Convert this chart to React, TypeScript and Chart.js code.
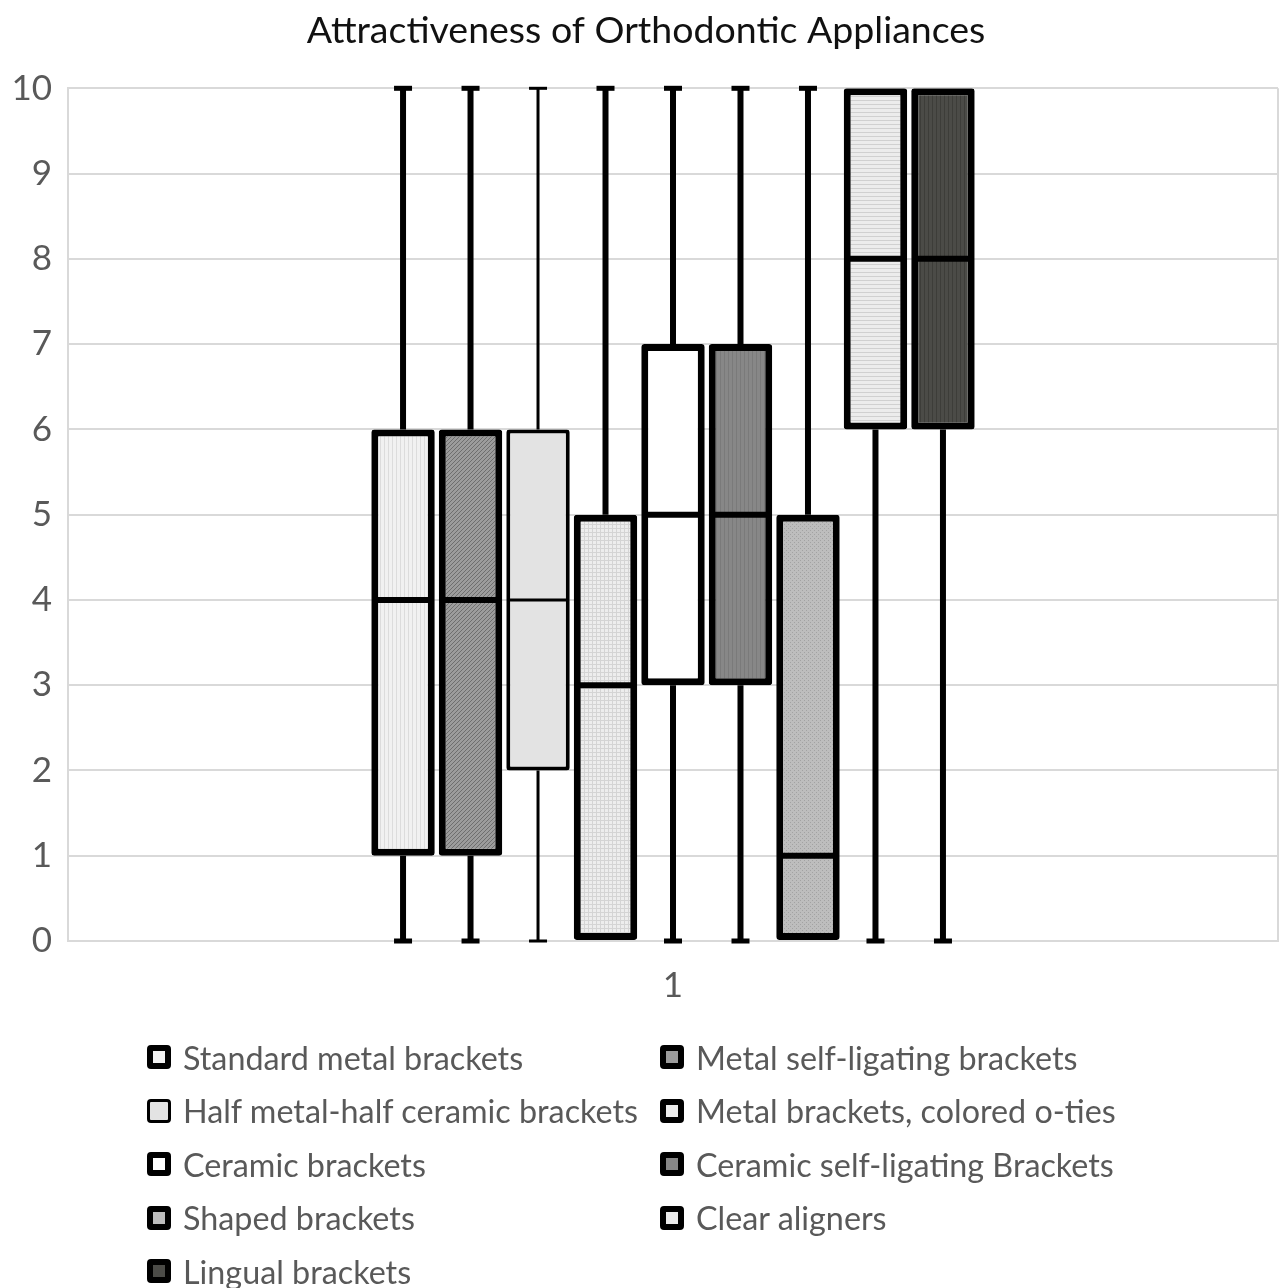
import React, { useEffect, useRef } from 'react';
import { Chart, registerables } from 'chart.js';

Chart.register(...registerables);

const categories = ['1'];
const seriesNames = [
  'Standard metal brackets',
  'Metal self-ligating brackets',
  'Half metal-half ceramic brackets',
  'Metal brackets, colored o-ties',
  'Ceramic brackets',
  'Ceramic self-ligating Brackets',
  'Shaped brackets',
  'Clear aligners',
  'Lingual brackets',
];
const minValues = [0, 0, 0, 0, 0, 0, 0, 0, 0];
const q1Values = [1, 1, 2, 0, 3, 3, 0, 6, 6];
const medianValues = [4, 4, 4, 3, 5, 5, 1, 8, 8];
const q3Values = [6, 6, 6, 5, 7, 7, 5, 10, 10];
const maxValues = [10, 10, 10, 10, 10, 10, 10, 10, 10];
const yTicks = [0, 1, 2, 3, 4, 5, 6, 7, 8, 9, 10];

const fillBase = ['#f1f1f1', '#9c9c9c', '#e3e3e3', '#ededed', '#ffffff', '#878787', '#bdbdbd', '#ececec', '#4b4b47'];
const fillKind = ['vstripe', 'diag', 'none', 'grid', 'none', 'vstripe', 'dots', 'hstripe', 'vstripe'];
const fillStroke = ['#dcdcdc', '#6e6e6e', '#e3e3e3', '#d4d4d4', '#ffffff', '#7a7a7a', '#a2a2a2', '#d0d0d0', '#3d3d39'];
const lineWidths = [7, 7, 4, 7, 7, 7, 7, 7, 7];

function makePattern(base: string, stroke: string, kind: string): CanvasPattern | string {
  if (kind === 'none') return base;
  const c = document.createElement('canvas');
  const s = 4;
  c.width = s;
  c.height = s;
  const g = c.getContext('2d')!;
  g.fillStyle = base;
  g.fillRect(0, 0, s, s);
  g.fillStyle = stroke;
  if (kind === 'vstripe') {
    g.fillRect(0, 0, 1, s);
  } else if (kind === 'hstripe') {
    g.fillRect(0, 0, s, 1);
  } else if (kind === 'grid') {
    g.fillRect(0, 0, 1, s);
    g.fillRect(0, 0, s, 1);
  } else if (kind === 'dots') {
    g.fillRect(0, 0, 1, 1);
    g.fillRect(2, 2, 1, 1);
  } else if (kind === 'diag') {
    for (let i = 0; i < s; i++) g.fillRect(i, s - 1 - i, 1, 1);
  }
  const p = g.createPattern(c, 'repeat');
  return p || base;
}

const boxPlugin = {
  id: 'boxWhiskers',
  beforeDatasetsDraw(chart: any) {
    const ctx = chart.ctx;
    const y = chart.scales.y;
    chart.data.datasets.forEach((ds: any, i: number) => {
      const meta = chart.getDatasetMeta(i);
      const bar = meta.data[0];
      if (!bar) return;
      const { x } = bar.getProps(['x'], true);
      const lw = ds.stats.lw;
      ctx.save();
      ctx.strokeStyle = '#000';
      ctx.fillStyle = '#000';
      ctx.lineWidth = lw - 1;
      const pMin = y.getPixelForValue(ds.stats.min);
      const pMax = y.getPixelForValue(ds.stats.max);
      const pQ1 = y.getPixelForValue(ds.stats.q1);
      const pQ3 = y.getPixelForValue(ds.stats.q3);
      const capW = 18;
      const capH = Math.max(3, lw - 2);
      if (ds.stats.q1 > ds.stats.min) {
        ctx.beginPath();
        ctx.moveTo(x, pQ1);
        ctx.lineTo(x, pMin);
        ctx.stroke();
        ctx.fillRect(x - capW / 2, pMin - capH / 2, capW, capH);
      }
      if (ds.stats.max > ds.stats.q3) {
        ctx.beginPath();
        ctx.moveTo(x, pQ3);
        ctx.lineTo(x, pMax);
        ctx.stroke();
        ctx.fillRect(x - capW / 2, pMax - capH / 2, capW, capH);
      }
      ctx.restore();
    });
  },
  afterDatasetsDraw(chart: any) {
    const ctx = chart.ctx;
    const y = chart.scales.y;
    chart.data.datasets.forEach((ds: any, i: number) => {
      const meta = chart.getDatasetMeta(i);
      const bar = meta.data[0];
      if (!bar) return;
      const { x, width } = bar.getProps(['x', 'width'], true);
      const lw = ds.stats.lw;
      const pMed = y.getPixelForValue(ds.stats.median);
      ctx.save();
      ctx.strokeStyle = '#000';
      ctx.lineWidth = Math.max(3, lw - 1);
      ctx.beginPath();
      ctx.moveTo(x - width / 2 + 1, pMed);
      ctx.lineTo(x + width / 2 - 1, pMed);
      ctx.stroke();
      ctx.restore();
    });
  },
};

const FONT = 'Lato, "Open Sans", sans-serif';

export default function App() {
  const ref = useRef<HTMLCanvasElement>(null);

  useEffect(() => {
    if (!ref.current) return;
    const datasets = seriesNames.map((name, i) => ({
      label: name,
      data: [[q1Values[i], q3Values[i]]],
      backgroundColor: makePattern(fillBase[i], fillStroke[i], fillKind[i]),
      borderColor: '#000000',
      borderWidth: lineWidths[i],
      borderSkipped: false,
      borderRadius: 3,
      stats: {
        min: minValues[i],
        q1: q1Values[i],
        median: medianValues[i],
        q3: q3Values[i],
        max: maxValues[i],
        lw: lineWidths[i],
      },
    }));
    const chart = new Chart(ref.current, {
      type: 'bar',
      data: { labels: categories, datasets: datasets as any },
      plugins: [boxPlugin],
      options: {
        animation: false,
        responsive: false,
        maintainAspectRatio: false,
        layout: { padding: { left: 14, right: 3, top: 0, bottom: 257 } },
        datasets: { bar: { categoryPercentage: 0.502, barPercentage: 0.94 } },
        plugins: {
          legend: { display: false },
          tooltip: { enabled: false },
          title: {
            display: true,
            text: 'Attractiveness of Orthodontic Appliances',
            color: '#111111',
            font: { family: FONT, size: 37.5, weight: 'normal' },
            padding: { top: 8, bottom: 35.3 },
          },
        },
        scales: {
          x: {
            grid: { display: true, color: '#d9d9d9', lineWidth: 2, drawTicks: false, offset: true },
            border: { display: true, color: '#d9d9d9', width: 2 },
            ticks: { color: '#595959', font: { family: FONT, size: 35 }, padding: 24 },
          },
          y: {
            min: 0,
            max: 10,
            afterBuildTicks: (scale: any) => {
              scale.ticks = yTicks.map((v) => ({ value: v }));
            },
            afterFit: (scale: any) => {
              scale.width = 54;
            },
            grid: { color: '#d9d9d9', lineWidth: 2, drawTicks: false },
            border: { display: true, color: '#d9d9d9', width: 2 },
            ticks: { color: '#595959', font: { family: FONT, size: 35 }, padding: 16 },
          },
        },
      } as any,
    });
    return () => chart.destroy();
  }, []);

  return (
    <div style={{ position: 'fixed', left: 0, top: 0, width: 1281, height: 1288, overflow: 'hidden', background: '#fff' }}>
      <canvas ref={ref} width={1281} height={1288} style={{ position: 'absolute', left: 0, top: 0, width: 1281, height: 1288 }} />
      {seriesNames.map((name, i) => {
        const col = i % 2;
        const row = Math.floor(i / 2);
        const left = col === 0 ? 147 : 660;
        const cy = 1057 + row * 53.5;
        const lw = lineWidths[i] === 7 ? 6 : 3;
        return (
          <div
            key={name}
            style={{
              position: 'absolute',
              left,
              top: cy - 21,
              height: 42,
              display: 'flex',
              alignItems: 'center',
              fontFamily: FONT,
              fontSize: 32.3,
              color: '#595959',
              whiteSpace: 'nowrap',
            }}
          >
            <span
              style={{
                display: 'inline-block',
                boxSizing: 'border-box',
                width: 24,
                height: 24,
                border: `${lw}px solid #000`,
                borderRadius: 4,
                background: fillBase[i],
                marginRight: 12,
              }}
            />
            <span>{name}</span>
          </div>
        );
      })}
    </div>
  );
}
